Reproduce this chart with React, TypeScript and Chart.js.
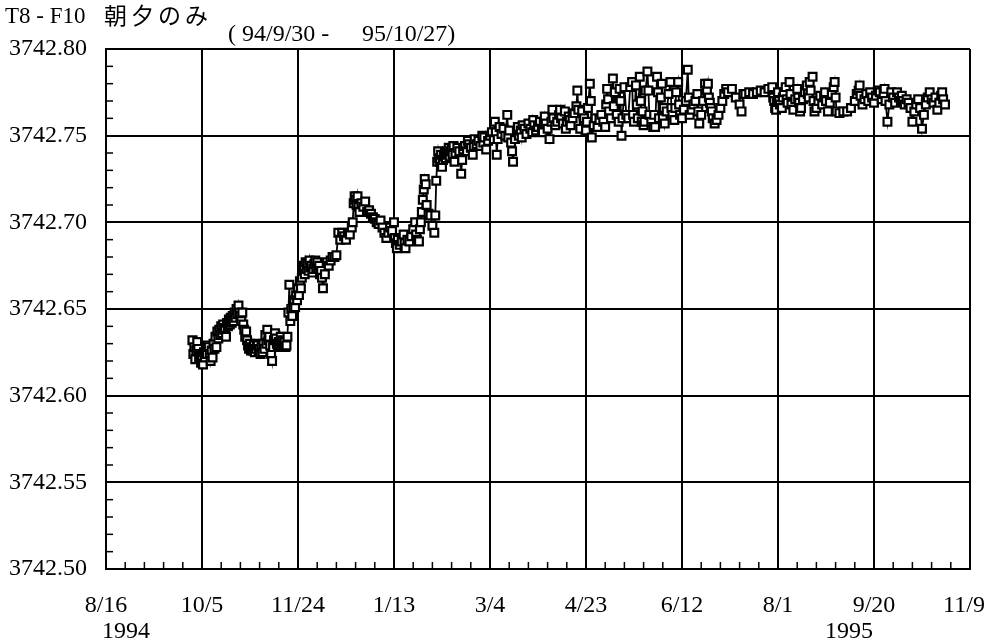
import React, { useEffect, useRef } from 'react';
import { Chart, registerables } from 'chart.js';

Chart.register(...registerables);

// x = days since 1994-08-16, y = water level (m)
const tickLabels = ['8/16', '10/5', '11/24', '1/13', '3/4', '4/23', '6/12', '8/1', '9/20', '11/9'];
const yearLabels = ['1994', '1995'];
const titleParts = ['T8 - F10', '朝夕のみ', '( 94/9/30 -', '95/10/27)'];

const readingsAutumn94: [number, number][] = [
  [45, 3742.632], [45.5, 3742.624], [46, 3742.628], [46.5, 3742.621], [47, 3742.626], [47.5, 3742.631],
  [48, 3742.627], [48.5, 3742.622], [49, 3742.624], [49.5, 3742.619], [50, 3742.623], [50.5, 3742.618],
  [51, 3742.625], [51.5, 3742.622], [52, 3742.627], [52.5, 3742.624], [53, 3742.629], [53.5, 3742.628],
  [54, 3742.624], [54.5, 3742.620], [55, 3742.626], [55.5, 3742.622], [56, 3742.630], [56.5, 3742.627],
  [57, 3742.634], [57.5, 3742.628], [58, 3742.637], [58.5, 3742.633], [59, 3742.638], [59.5, 3742.635],
  [60, 3742.640], [60.5, 3742.636], [61, 3742.641], [61.5, 3742.638], [62, 3742.639], [62.5, 3742.634],
  [63, 3742.642], [63.5, 3742.640], [64, 3742.644], [64.5, 3742.641], [65, 3742.645], [65.5, 3742.642],
  [66, 3742.646], [66.5, 3742.643], [67, 3742.648], [67.5, 3742.645], [68, 3742.650], [68.5, 3742.647],
  [69, 3742.652], [69.5, 3742.648], [70, 3742.646], [70.5, 3742.643], [71, 3742.648], [71.5, 3742.641],
  [72, 3742.638], [72.5, 3742.634], [73, 3742.637], [73.5, 3742.632], [74, 3742.629], [74.5, 3742.627],
  [75, 3742.630], [75.5, 3742.626], [76, 3742.628], [76.5, 3742.626], [77, 3742.629], [77.5, 3742.625],
  [78, 3742.627], [78.5, 3742.630], [79, 3742.629], [79.5, 3742.626], [80, 3742.627], [80.5, 3742.624],
  [81, 3742.628], [81.5, 3742.625], [82, 3742.630], [82.5, 3742.627], [83, 3742.635], [83.5, 3742.630],
  [84, 3742.638], [84.5, 3742.632], [85, 3742.634], [85.5, 3742.629], [86, 3742.624], [86.5, 3742.620],
  [87, 3742.628], [87.5, 3742.632], [88, 3742.636], [88.5, 3742.633], [89, 3742.630], [89.5, 3742.628],
  [90, 3742.631], [90.5, 3742.629], [91, 3742.634], [91.5, 3742.630], [92, 3742.632], [92.5, 3742.629],
  [93, 3742.631], [93.5, 3742.628], [94, 3742.629], [94.5, 3742.634], [95, 3742.648], [95.5, 3742.664],
  [96, 3742.643], [96.5, 3742.650], [97, 3742.646], [97.5, 3742.651], [98, 3742.655], [98.5, 3742.651],
  [99, 3742.658], [99.5, 3742.655], [100, 3742.662], [100.5, 3742.658], [101, 3742.666],
];

const readingsWinter: [number, number][] = [
  [101.5, 3742.662], [102, 3742.668], [102.5, 3742.672], [103, 3742.675], [103.5, 3742.670], [104, 3742.677],
  [104.5, 3742.673], [105, 3742.676], [105.5, 3742.672], [106, 3742.678], [106.5, 3742.674], [107, 3742.675],
  [107.5, 3742.671], [108, 3742.673], [108.5, 3742.676], [109, 3742.678], [109.5, 3742.674], [110, 3742.677],
  [110.5, 3742.673], [111, 3742.675], [111.5, 3742.670], [112, 3742.672], [112.5, 3742.668], [113, 3742.662],
  [114, 3742.670], [115, 3742.677], [116, 3742.675], [117, 3742.678], [118, 3742.680], [119, 3742.680],
  [120, 3742.681], [121, 3742.694], [122, 3742.690], [123, 3742.694], [124, 3742.692], [125, 3742.690],
  [126, 3742.694], [127, 3742.693], [128, 3742.697], [128.5, 3742.700], [129, 3742.711], [129.5, 3742.715],
  [130, 3742.713], [130.5, 3742.710], [131, 3742.715], [131.5, 3742.709], [132, 3742.706], [133, 3742.711],
  [134, 3742.709], [135, 3742.712], [136, 3742.706], [137, 3742.707], [138, 3742.705], [139, 3742.703],
  [140, 3742.702], [141, 3742.700], [142, 3742.699], [143, 3742.701], [144, 3742.697], [145, 3742.694],
  [146, 3742.691], [147, 3742.694], [148, 3742.697], [149, 3742.695], [150, 3742.700], [150.5, 3742.691],
  [151, 3742.688], [151.5, 3742.685], [152, 3742.690], [153, 3742.687], [154, 3742.689], [155, 3742.693],
  [155.5, 3742.688], [156, 3742.685], [157, 3742.690], [158, 3742.689], [159, 3742.692], [160, 3742.696],
  [161, 3742.700], [161.5, 3742.693], [162, 3742.690], [163, 3742.689], [163.5, 3742.696], [164, 3742.700],
  [164.5, 3742.706], [165, 3742.713], [165.5, 3742.719], [166, 3742.725], [166.5, 3742.722], [167, 3742.710],
  [168, 3742.705], [169, 3742.704], [170, 3742.698], [171, 3742.694], [171.5, 3742.704],
];

const readingsSpring: [number, number][] = [
  [172, 3742.724], [172.5, 3742.735], [173, 3742.741], [173.5, 3742.737], [174, 3742.735], [174.5, 3742.739],
  [175, 3742.732], [175.5, 3742.736], [176, 3742.738], [176.5, 3742.740], [177, 3742.737], [177.5, 3742.741],
  [178, 3742.739], [178.5, 3742.743], [179, 3742.738], [179.5, 3742.741], [180, 3742.742], [180.5, 3742.739],
  [181, 3742.744], [181.5, 3742.735], [182, 3742.740], [183, 3742.743], [184, 3742.741], [185, 3742.728],
  [185.5, 3742.736], [186, 3742.742], [187, 3742.744], [188, 3742.741], [188.5, 3742.747], [189, 3742.745],
  [190, 3742.743], [191, 3742.739], [191.5, 3742.744], [192, 3742.748], [193, 3742.745], [194, 3742.747],
  [195, 3742.744], [196, 3742.750], [196.5, 3742.746], [197, 3742.749], [198, 3742.742], [199, 3742.747],
  [200, 3742.750], [201, 3742.752], [202, 3742.748], [202.5, 3742.758], [203, 3742.752], [203.5, 3742.739],
  [204, 3742.748], [205, 3742.755], [206, 3742.751], [207, 3742.754], [208, 3742.750], [209, 3742.762],
  [209.5, 3742.749], [210, 3742.753], [211, 3742.746], [211.5, 3742.741], [212, 3742.735], [213, 3742.748],
  [214, 3742.752], [214.5, 3742.755], [215, 3742.750], [216, 3742.753], [216.5, 3742.749], [217, 3742.756],
  [218, 3742.754], [219, 3742.751], [220, 3742.757], [221, 3742.754], [222, 3742.752], [222.5, 3742.759],
  [223, 3742.756], [224, 3742.753], [225, 3742.755], [226, 3742.758], [227, 3742.754], [227.5, 3742.752],
  [228, 3742.757], [228.5, 3742.761], [229, 3742.757], [230, 3742.754], [231, 3742.748], [232, 3742.758],
  [232.5, 3742.765], [233, 3742.760], [234, 3742.756], [235, 3742.758],
];

const readingsSummer: [number, number][] = [
  [236, 3742.762], [236.5, 3742.765], [237, 3742.760], [238, 3742.757], [239, 3742.764], [239.5, 3742.754],
  [240, 3742.758], [241, 3742.761], [241.5, 3742.759], [242, 3742.756], [243, 3742.760], [244, 3742.763],
  [245, 3742.767], [245.5, 3742.776], [246, 3742.765], [247, 3742.754], [248, 3742.764], [249, 3742.760],
  [250, 3742.753], [250.5, 3742.758], [251, 3742.766], [252, 3742.780], [252.5, 3742.770], [253, 3742.749],
  [254, 3742.756], [255, 3742.760], [256, 3742.755], [257, 3742.759], [258, 3742.762], [259, 3742.758],
  [260, 3742.755], [260.5, 3742.768], [261, 3742.777], [261.5, 3742.771], [262, 3742.764], [263, 3742.760],
  [264, 3742.783], [264.5, 3742.767], [265, 3742.775], [266, 3742.762], [267, 3742.758], [267.5, 3742.777],
  [268, 3742.770], [268.5, 3742.750], [269, 3742.760], [270, 3742.778], [271, 3742.762], [272, 3742.760],
  [273, 3742.778], [274, 3742.781], [274.5, 3742.762], [275, 3742.758], [276, 3742.779], [276.5, 3742.768],
  [277, 3742.760], [278, 3742.784], [278.5, 3742.770], [279, 3742.758], [279.5, 3742.764], [280, 3742.756],
  [280.5, 3742.758], [281, 3742.776], [282, 3742.787], [282.5, 3742.776], [283, 3742.762], [284, 3742.758],
  [285, 3742.755], [285.5, 3742.762], [286, 3742.755], [287, 3742.784], [287.5, 3742.775], [288, 3742.760],
  [289, 3742.772], [289.5, 3742.780], [290, 3742.760], [290.5, 3742.766], [291, 3742.757], [292, 3742.764],
  [293, 3742.774], [294, 3742.781], [294.5, 3742.766], [295, 3742.762], [296, 3742.759], [296.5, 3742.766],
  [297, 3742.775], [298, 3742.781], [298.5, 3742.768], [299, 3742.762], [300, 3742.760], [301, 3742.765],
  [302, 3742.770], [303, 3742.788], [303.5, 3742.772], [304, 3742.762], [305, 3742.765], [306, 3742.768],
  [307, 3742.770], [308, 3742.774], [308.5, 3742.764], [309, 3742.757], [310, 3742.762], [311, 3742.770],
  [312, 3742.780], [313, 3742.776], [313.5, 3742.780], [314, 3742.772], [314.5, 3742.769], [315, 3742.766],
  [315.5, 3742.764], [316, 3742.760], [317, 3742.757], [318, 3742.759], [319, 3742.762], [320, 3742.766],
  [321, 3742.770], [322, 3742.774], [323, 3742.777], [324, 3742.775], [326, 3742.777],
];

const readingsAutumn95: [number, number][] = [
  [328, 3742.772], [330, 3742.768], [331, 3742.764], [332, 3742.774], [333, 3742.774], [335, 3742.775],
  [337, 3742.774], [339, 3742.775], [341, 3742.776], [343, 3742.775], [345, 3742.777], [347, 3742.778],
  [347.5, 3742.772], [348, 3742.770], [348.5, 3742.766], [349, 3742.765], [349.5, 3742.770], [350, 3742.775],
  [350.5, 3742.770], [351, 3742.768], [352, 3742.766], [352.5, 3742.772], [353, 3742.775], [354, 3742.778],
  [354.5, 3742.771], [355, 3742.769], [356, 3742.781], [356.5, 3742.774], [357, 3742.768], [358, 3742.765],
  [359, 3742.771], [360, 3742.777], [360.5, 3742.772], [361, 3742.769], [361.5, 3742.764], [362, 3742.766],
  [363, 3742.771], [364, 3742.775], [365, 3742.779], [365.5, 3742.774], [366, 3742.772], [366.5, 3742.781],
  [367, 3742.776], [368, 3742.784], [368.5, 3742.770], [369, 3742.764], [370, 3742.766], [371, 3742.770],
  [372, 3742.773], [373, 3742.768], [374, 3742.772], [374.5, 3742.775], [375, 3742.770], [376, 3742.764],
  [377, 3742.769], [378, 3742.774], [379, 3742.778], [379.5, 3742.781], [380, 3742.772], [380.5, 3742.764],
  [382, 3742.763], [384, 3742.764], [386, 3742.764], [388, 3742.766], [390, 3742.770], [391, 3742.774],
  [392, 3742.776], [392.5, 3742.779], [393, 3742.773], [394, 3742.768], [395, 3742.771], [396, 3742.774],
  [397, 3742.770], [398, 3742.775], [399, 3742.772], [400, 3742.769], [401, 3742.773], [402, 3742.776],
  [403, 3742.775], [404, 3742.771], [405, 3742.774], [405.5, 3742.777], [406, 3742.770], [407, 3742.758],
  [408, 3742.768], [409, 3742.775], [410, 3742.772], [411, 3742.769], [412, 3742.775], [413, 3742.772],
  [414, 3742.770], [414.5, 3742.773], [415, 3742.770], [416, 3742.768], [417, 3742.771], [418, 3742.769],
  [419, 3742.766], [420, 3742.758], [421, 3742.764], [422, 3742.768], [423, 3742.771], [424, 3742.766],
  [425, 3742.754], [426, 3742.762], [427, 3742.768], [428, 3742.772], [429, 3742.775], [430, 3742.771],
  [431, 3742.769], [432, 3742.772], [433, 3742.765], [434, 3742.769], [435, 3742.773], [435.5, 3742.775],
  [436, 3742.771], [437, 3742.768],
];

const X_MIN = 0;
const X_MAX = 450;
const X_STEP = 50;
const X_MINOR = 10;
const Y_MIN = 3742.5;
const Y_MAX = 3742.8;
const Y_STEP = 0.05;
const Y_MINOR = 0.01;

const SERIF = '"Liberation Serif", "Times New Roman", serif';

export default function App() {
  const ref = useRef<HTMLCanvasElement | null>(null);

  useEffect(() => {
    if (!ref.current) return;
    const points = [
      ...readingsAutumn94,
      ...readingsWinter,
      ...readingsSpring,
      ...readingsSummer,
      ...readingsAutumn95,
    ].map(([x, y]) => ({ x, y }));

    const decor = {
      id: 'decor',
      beforeDatasetsDraw(chart: any) {
        const { ctx, chartArea, scales } = chart;
        const xs = scales.x;
        const ys = scales.y;
        ctx.save();
        ctx.strokeStyle = '#000';
        ctx.lineWidth = 1.5;
        const nx = Math.round((X_MAX - X_MIN) / X_MINOR);
        for (let i = 1; i < nx; i++) {
          if (i % Math.round(X_STEP / X_MINOR) === 0) continue;
          const px = xs.getPixelForValue(X_MIN + i * X_MINOR);
          ctx.beginPath();
          ctx.moveTo(px, chartArea.bottom);
          ctx.lineTo(px, chartArea.bottom - 7);
          ctx.stroke();
        }
        const ny = Math.round((Y_MAX - Y_MIN) / Y_MINOR);
        for (let i = 1; i < ny; i++) {
          if (i % Math.round(Y_STEP / Y_MINOR) === 0) continue;
          const py = ys.getPixelForValue(Y_MIN + i * Y_MINOR);
          ctx.beginPath();
          ctx.moveTo(chartArea.left, py);
          ctx.lineTo(chartArea.left + 7, py);
          ctx.stroke();
        }
        ctx.restore();
      },
      afterDraw(chart: any) {
        const { ctx, scales } = chart;
        const xs = scales.x;
        ctx.save();
        ctx.fillStyle = '#000';
        ctx.textBaseline = 'middle';
        ctx.textAlign = 'center';
        ctx.font = `24px ${SERIF}`;
        tickLabels.forEach((t, i) => {
          let px = xs.getPixelForValue(X_MIN + i * X_STEP);
          if (i === tickLabels.length - 1) px -= 6;
          ctx.fillText(t, px, 606);
        });
        ctx.fillText(yearLabels[0], xs.getPixelForValue(X_MIN) + 20, 632);
        ctx.fillText(yearLabels[1], xs.getPixelForValue(X_MIN + 8 * X_STEP) - 25, 632);

        ctx.textAlign = 'left';
        ctx.textBaseline = 'alphabetic';
        ctx.font = `23px ${SERIF}`;
        ctx.fillText(titleParts[0], 5, 23);
        ctx.font = `23px "Noto Sans CJK JP", sans-serif`;
        (ctx as any).letterSpacing = '4px';
        ctx.fillText(titleParts[1], 104, 24);
        (ctx as any).letterSpacing = '0px';
        ctx.font = `24px ${SERIF}`;
        ctx.fillText(titleParts[2], 228, 41);
        ctx.fillText(titleParts[3], 362, 41);
        ctx.restore();
      },
    };

    const chart = new Chart(ref.current, {
      type: 'line',
      data: {
        datasets: [
          {
            data: points,
            borderColor: '#000',
            borderWidth: 1.8,
            pointStyle: 'rect',
            pointRadius: 5.5,
            pointBorderWidth: 2.2,
            pointBackgroundColor: '#fff',
            pointBorderColor: '#000',
            tension: 0,
            fill: false,
          },
        ],
      },
      options: {
        animation: false,
        responsive: false,
        maintainAspectRatio: false,
        parsing: false as any,
        layout: { padding: { top: 49, right: 15, left: 0, bottom: 0 } },
        plugins: {
          legend: { display: false },
          tooltip: { enabled: false },
          title: { display: false },
        },
        scales: {
          x: {
            type: 'linear',
            min: X_MIN,
            max: X_MAX,
            ticks: { stepSize: X_STEP, display: false },
            grid: { color: '#000', lineWidth: 2, drawTicks: false },
            border: { display: true, color: '#000', width: 2 },
            afterFit: (s: any) => {
              s.height = 75;
            },
          },
          y: {
            type: 'linear',
            min: Y_MIN,
            max: Y_MAX,
            ticks: {
              stepSize: Y_STEP,
              color: '#000',
              padding: 19,
              font: { family: SERIF, size: 24 },
              callback: (v: any) => Number(v).toFixed(2),
            },
            grid: { color: '#000', lineWidth: 2, drawTicks: false },
            border: { display: true, color: '#000', width: 2 },
            afterFit: (s: any) => {
              s.width = 106;
            },
          },
        },
      },
      plugins: [decor],
    });
    return () => chart.destroy();
  }, []);

  return (
    <div style={{ position: 'absolute', left: 0, top: 0, width: 985, height: 644, background: '#fff' }}>
      <canvas ref={ref} width={985} height={644} />
    </div>
  );
}
